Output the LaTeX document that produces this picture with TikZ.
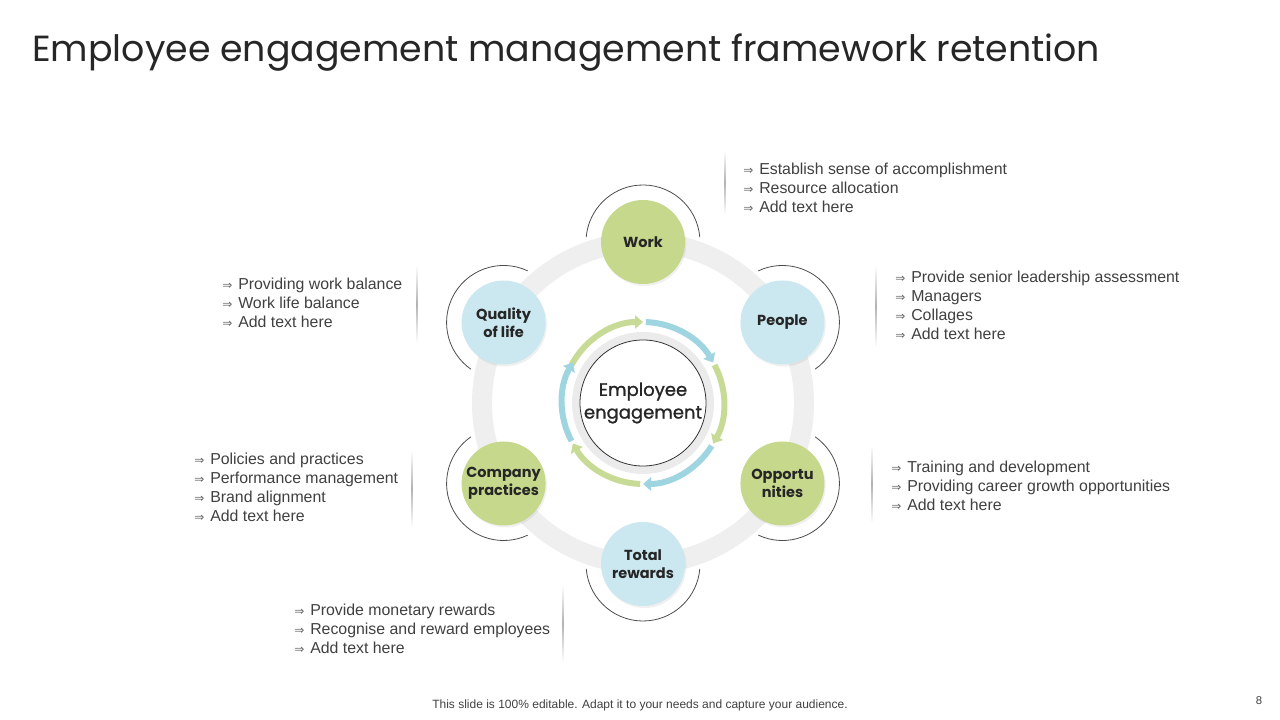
\documentclass[tikz,border=0pt]{standalone}
\usepackage{fontspec}
\setmainfont{Liberation Sans}
\newfontfamily\gothic{Poppins}
\newfontfamily\gothicmed[FakeBold=1.2]{Poppins}
\newfontfamily\dejavu{DejaVu Sans}
\usetikzlibrary{arrows.meta,shadows,calc}
\definecolor{gnode}{HTML}{C5D88C}
\definecolor{bnode}{HTML}{CBE8F0}
\definecolor{garrow}{HTML}{C8DB96}
\definecolor{barrow}{HTML}{9FD4E1}
\definecolor{ringgray}{HTML}{EFEFEF}
\definecolor{txt}{HTML}{404040}
\newcommand{\bul}{\makebox[12pt][l]{\dejavu\fontsize{9}{9}\selectfont\color{black!60}⇒}}
\newcommand{\blk}[1]{\begin{tabular}[t]{@{}l@{}}#1\end{tabular}}
\begin{document}
\begin{tikzpicture}[x=0.75pt,y=0.75pt,
  hub/.style={circle, minimum size=63pt, inner sep=0pt, align=center,
    font=\gothic\bfseries\fontsize{10.9}{13.5}\selectfont, text=black!85,
    drop shadow={opacity=0.12, shadow xshift=1pt, shadow yshift=-1.5pt}},
  gn/.style={hub, fill=gnode},
  bn/.style={hub, fill=bnode},
  outerarc/.style={draw=black!70, line width=0.6pt},
  blist/.style={anchor=base west, inner sep=0pt, text=txt, font=\fontsize{11.9}{14.25}\selectfont},
  cyc/.style={line width=4.5pt, -{Triangle[width=10pt,length=6pt]}},
  vbar/.style={top color=white, bottom color=white, middle color=black!30}
]
\useasboundingbox (0,0) rectangle (1280,720);
\coordinate (C) at (643,317);

% title
\node (title) [anchor=base west, inner sep=0pt, font=\gothic\fontsize{27.25}{30}\selectfont, text=black!85]
  at (32,658) {Employee engagement management framework retention};

% big gray ring
\draw[ringgray, line width=15pt] (C) circle[radius=161];

% outer arcs
\foreach \a in {90,30,-30,-90,-150,150}{
  \draw[outerarc] (C) ++(\a:161) ++(\a-85:57) arc[start angle=\a-85, end angle=\a+85, radius=57];
}

% satellite nodes
\node (work)    [gn] at ($(C)+(90:161)$)   {Work};
\node (people)  [bn] at ($(C)+(30:161)$)   {People};
\node (opp)     [gn] at ($(C)+(-30:161)$)  {Opportu\\nities};
\node (total)   [bn] at ($(C)+(-90:161)$)  {Total\\rewards};
\node (company) [gn] at ($(C)+(-150:161)$) {Company\\practices};
\node (quality) [bn] at ($(C)+(150:161)$)  {Quality\\of life};

% center
\draw[ringgray!90!black!100, line width=6pt, opacity=0.5] (C) circle[radius=67];
\node (core) [circle, draw=black!80, line width=0.6pt, fill=white, minimum size=94.5pt, inner sep=0pt,
  align=center, font=\gothicmed\fontsize{13.5}{17}\selectfont, text=black!85] at (C) {Employee\\engagement};

% cycle arrows
\draw[cyc, garrow] (C) ++(152:81) arc[start angle=152, end angle=90, radius=81];
\draw[cyc, barrow] (C) ++(88:81) arc[start angle=88, end angle=30, radius=81];
\draw[cyc, garrow] (C) ++(28:81) arc[start angle=28, end angle=-30, radius=81];
\draw[cyc, barrow] (C) ++(-32:81) arc[start angle=-32, end angle=-90, radius=81];
\draw[cyc, garrow] (C) ++(-92:81) arc[start angle=-92, end angle=-150, radius=81];
\draw[cyc, barrow] (C) ++(-152:81) arc[start angle=-152, end angle=-210, radius=81];

% divider bars
\shade[vbar] (724,570) rectangle (725.8,505);
\shade[vbar] (875,455) rectangle (876.8,373);
\shade[vbar] (871,275) rectangle (872.8,197);
\shade[vbar] (562,135) rectangle (563.8,58);
\shade[vbar] (411,270) rectangle (412.8,193);
\shade[vbar] (416,455) rectangle (417.8,377);

% bullet lists
\node (tw) [blist] at (743,545.5) {\blk{\bul Establish sense of accomplishment\\ \bul Resource allocation\\ \bul Add text here}};
\node (tp) [blist] at (895,437.5) {\blk{\bul Provide senior leadership assessment\\ \bul Managers\\ \bul Collages\\ \bul Add text here}};
\node (to) [blist] at (891,247.5) {\blk{\bul Training and development\\ \bul Providing career growth opportunities\\ \bul Add text here}};
\node (tt) [blist] at (294,104.5) {\blk{\bul Provide monetary rewards\\ \bul Recognise and reward employees\\ \bul Add text here}};
\node (tc) [blist] at (194,255.5) {\blk{\bul Policies and practices\\ \bul Performance management\\ \bul Brand alignment\\ \bul Add text here}};
\node (tq) [blist] at (222,430.5) {\blk{\bul Providing work balance\\ \bul Work life balance\\ \bul Add text here}};

% footer
\node (foot) [font=\fontsize{9}{11}\selectfont, text=black!75] at (640,15) {This slide is 100\% editable. Adapt it to your needs and capture your audience.};
\node (pnum) [font=\fontsize{8.5}{10}\selectfont, text=black!75] at (1259,19) {8};
\end{tikzpicture}
\end{document}
